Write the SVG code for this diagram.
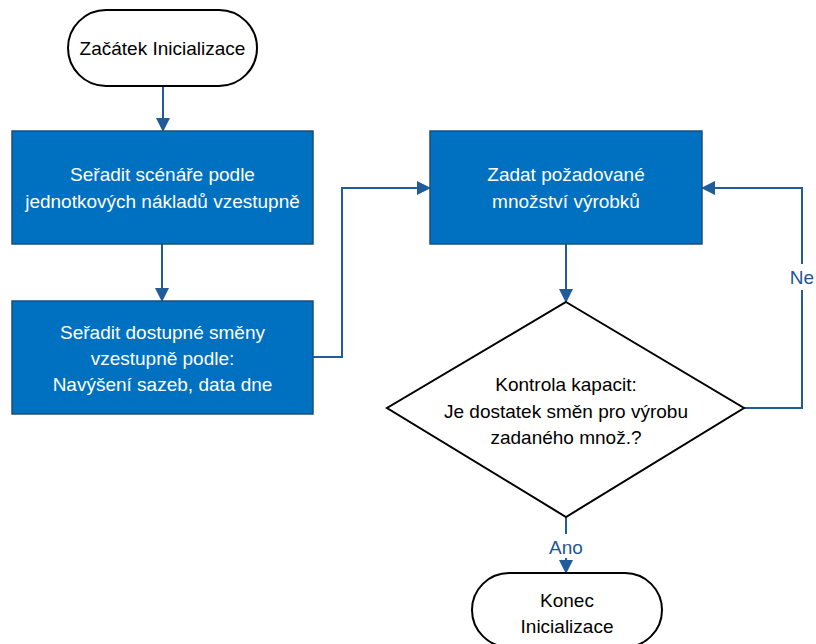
<svg xmlns="http://www.w3.org/2000/svg" width="816" height="644" viewBox="0 0 816 644">
  <style>
    .term { fill: #ffffff; stroke: #000000; stroke-width: 2; }
    .proc { fill: #0070c0; stroke: #1f4e79; stroke-width: 1.5; }
    .dec { fill: #ffffff; stroke: #000000; stroke-width: 2; }
    .t { font-family: "Liberation Sans", Arial, sans-serif; font-size: 19px; text-anchor: middle; }
    .dark { fill: #000000; }
    .light { fill: #ffffff; }
    .lbl { fill: #1f5592; font-family: "Liberation Sans", Arial, sans-serif; font-size: 19px; text-anchor: middle; }
    .conn { fill: none; stroke: #1f5c99; stroke-width: 2; }
  </style>
  <defs>
    <marker id="arrow" markerUnits="userSpaceOnUse" markerWidth="14" markerHeight="14" viewBox="0 0 14 14" refX="13" refY="7" orient="auto">
      <path d="M0,0 L14,7 L0,14 Z" fill="#1f5c99"/>
    </marker>
  </defs>
  <rect width="816" height="644" fill="#ffffff"/>

  <g id="connectors">
    <path class="conn" d="M163,86 L163,131" marker-end="url(#arrow)"/>
    <path class="conn" d="M162,244 L162,301" marker-end="url(#arrow)"/>
    <path class="conn" d="M313,357 L342,357 L342,188 L430,188" marker-end="url(#arrow)"/>
    <path class="conn" d="M566,244 L566,302" marker-end="url(#arrow)"/>
    <path class="conn" d="M744,408 L802,408 L802,188 L702,188" marker-end="url(#arrow)"/>
    <path class="conn" d="M566,517 L566,573" marker-end="url(#arrow)"/>
    <rect x="788" y="264" width="28" height="26" fill="#ffffff"/>
    <text class="lbl" x="802" y="284">Ne</text>
    <rect x="548" y="534" width="36" height="24" fill="#ffffff"/>
    <text class="lbl" x="566" y="554">Ano</text>
  </g>

  <g id="start">
    <rect class="term" x="68" y="10" width="189" height="76" rx="38" ry="38"/>
    <text class="t dark" x="162.5" y="55">Začátek Inicializace</text>
  </g>

  <g id="sort-scenarios">
    <rect class="proc" x="12" y="131" width="301" height="113"/>
    <text class="t light" x="162.5" y="181">Seřadit scénáře podle</text>
    <text class="t light" x="162.5" y="208">jednotkových nákladů vzestupně</text>
  </g>

  <g id="sort-shifts">
    <rect class="proc" x="12" y="301" width="301" height="113"/>
    <text class="t light" x="162.5" y="339">Seřadit dostupné směny</text>
    <text class="t light" x="162.5" y="365">vzestupně podle:</text>
    <text class="t light" x="162.5" y="391">Navýšení sazeb, data dne</text>
  </g>

  <g id="enter-quantity">
    <rect class="proc" x="430" y="131" width="272" height="113"/>
    <text class="t light" x="566" y="181">Zadat požadované</text>
    <text class="t light" x="566" y="208">množství výrobků</text>
  </g>

  <g id="capacity-check">
    <polygon class="dec" points="566,302 744,408 566,517 387,408"/>
    <text class="t dark" x="566" y="391">Kontrola kapacit:</text>
    <text class="t dark" x="566" y="418">Je dostatek směn pro výrobu</text>
    <text class="t dark" x="566" y="444">zadaného množ.?</text>
  </g>

  <g id="end">
    <rect class="term" x="472" y="573" width="190" height="74" rx="37" ry="37"/>
    <text class="t dark" x="567" y="607">Konec</text>
    <text class="t dark" x="567" y="633">Inicializace</text>
  </g>
</svg>
